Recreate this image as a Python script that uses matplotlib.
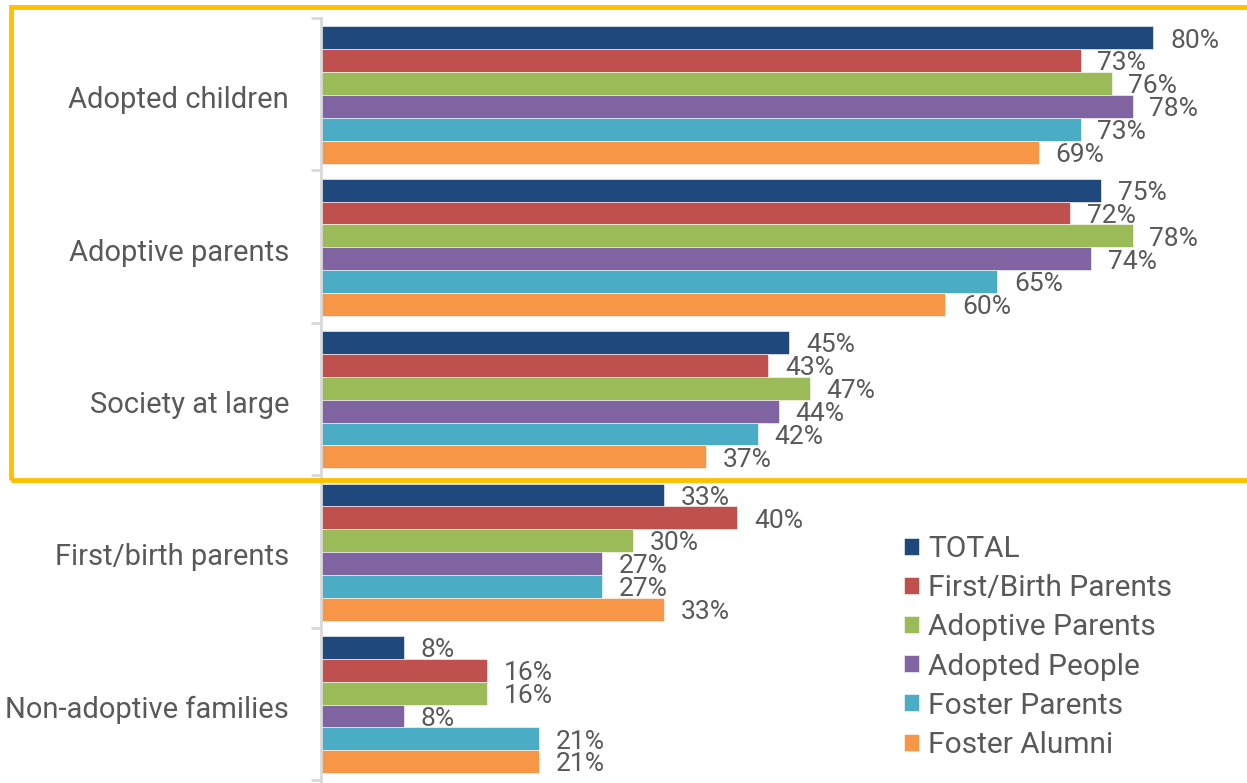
import numpy as np
import matplotlib.pyplot as plt
from matplotlib.patches import Rectangle

# données
categories = ['Adopted children', 'Adoptive parents', 'Society at large',
              'First/birth parents', 'Non-adoptive families']
series = ['TOTAL', 'First/Birth Parents', 'Adoptive Parents',
          'Adopted People', 'Foster Parents', 'Foster Alumni']
total = [80, 75, 45, 33, 8]
birth_parents = [73, 72, 43, 40, 16]
adoptive_parents = [76, 78, 47, 30, 16]
adopted_people = [78, 74, 44, 27, 8]
foster_parents = [73, 65, 42, 27, 21]
foster_alumni = [69, 60, 37, 33, 21]

valeurs = [total, birth_parents, adoptive_parents, adopted_people,
           foster_parents, foster_alumni]
couleurs = ['#1F497D', '#C0504D', '#9BBB59', '#8064A2', '#4BACC6', '#F79646']

plt.rcParams['font.family'] = ['Roboto', 'DejaVu Sans']
gris = '#595959'

fig = plt.figure(figsize=(12.47, 7.83), dpi=100)
ax = fig.add_axes([321/1247, 0, 1 - 321/1247, 1 - 18/783])

y = np.arange(len(categories))
h = 0.15
for j, (vals, c, nom) in enumerate(zip(valeurs, couleurs, series)):
    pos = y + (j - 2.5) * h + 0.005
    ax.barh(pos, vals, height=h, color=c, edgecolor='white', linewidth=0.4, label=nom)
    for p, v in zip(pos, vals):
        ax.text(v + 1.6, p + 0.018, f'{v}%', va='center', ha='left',
                fontsize=19, color=gris)

ax.set_xlim(0, 89)
ax.set_ylim(4.52, -0.5)

for s in ['top', 'right', 'bottom']:
    ax.spines[s].set_visible(False)
ax.spines['left'].set_color('#D9D9D9')
ax.spines['left'].set_linewidth(2)
ax.set_xticks([])
ax.set_yticks(y + 0.02)
ax.set_yticklabels(categories, fontsize=21, color=gris)
ax.tick_params(axis='y', which='major', length=0, pad=23)
ax.set_yticks(np.arange(-0.5, 4.6, 1), minor=True)
ax.tick_params(axis='y', which='minor', length=7, width=2, color='#D9D9D9')

# cadre jaune
fig.patches.append(Rectangle((11/1247, 1 - 480/783), 1.1, 473/783,
                             transform=fig.transFigure, fill=False,
                             edgecolor='#FFC000', linewidth=3.5, zorder=10))

fig.legend(loc='center left', bbox_to_anchor=(904/1247, 1 - 647/783),
           frameon=False, fontsize=21.5, labelcolor=gris, borderpad=0,
           borderaxespad=0, handlelength=0.5, handleheight=0.5,
           handletextpad=0.3, labelspacing=0.37)

fig.savefig('out.png', dpi=100)
